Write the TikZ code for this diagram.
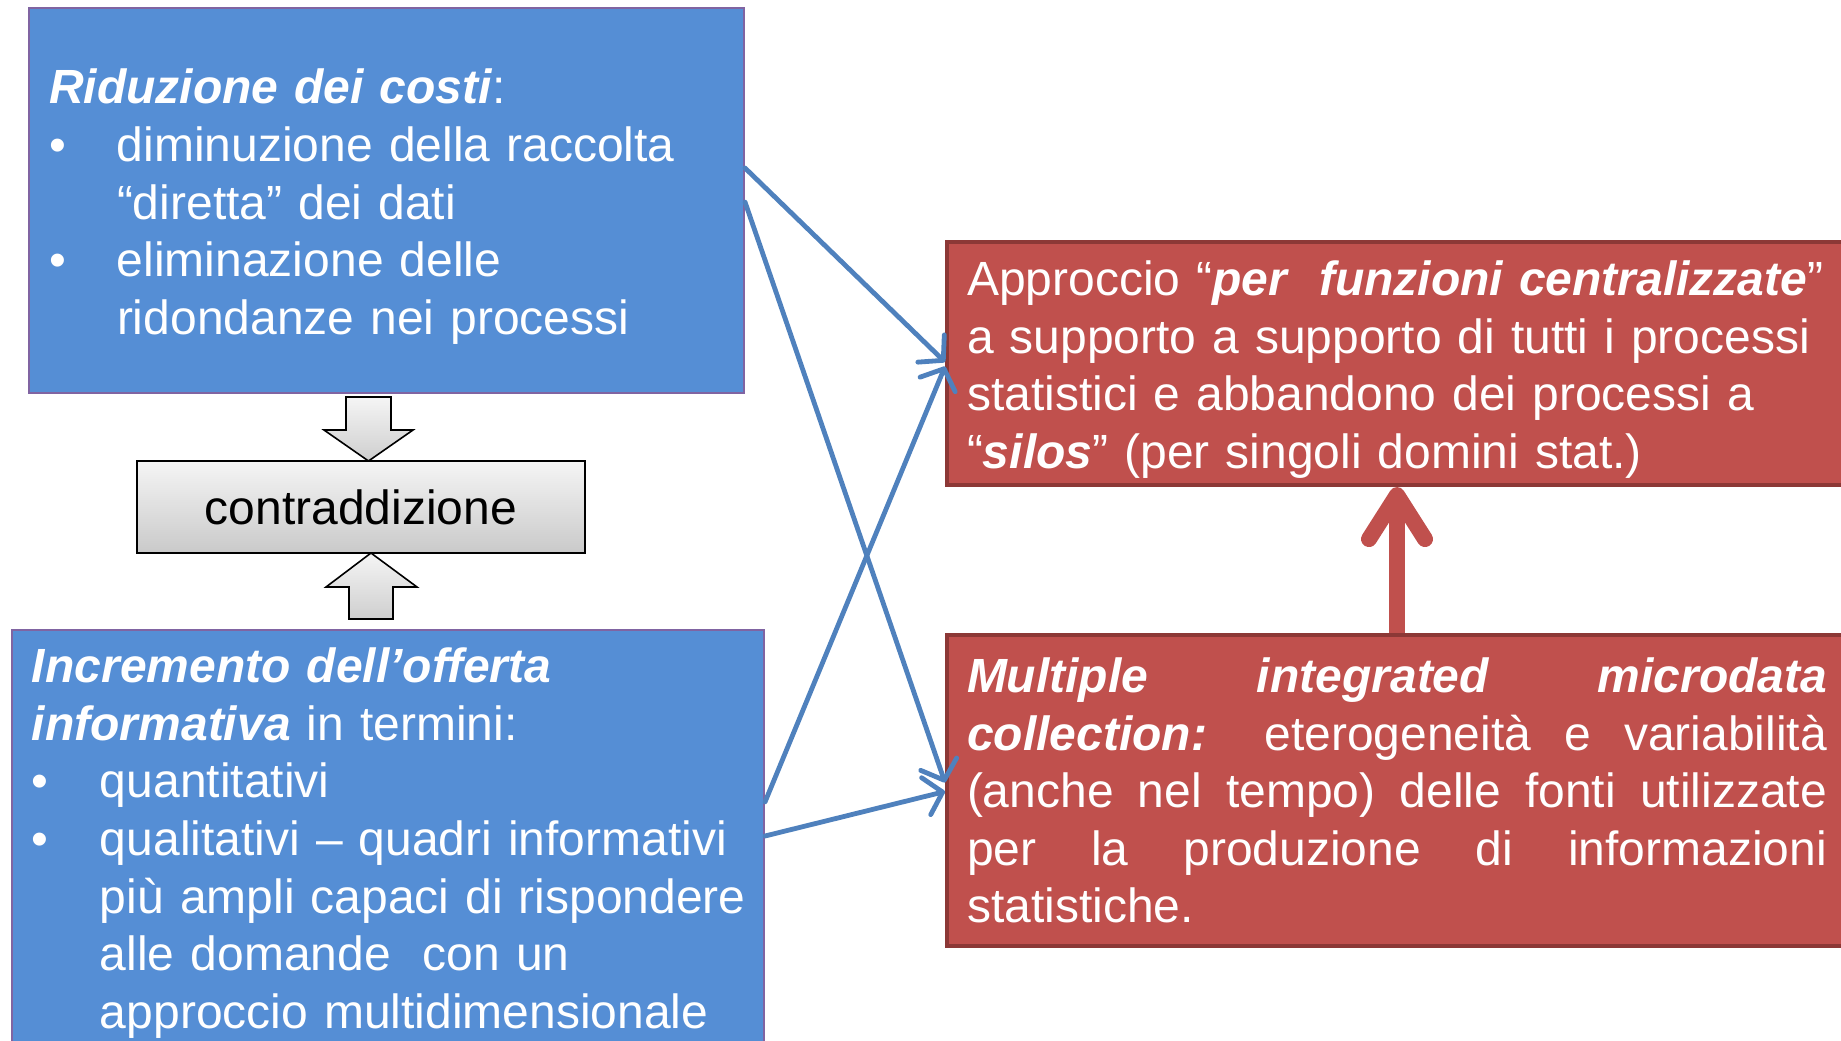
\documentclass[tikz,border=0pt]{standalone}
\usepackage{fontspec}
\setmainfont{Liberation Sans}
\usetikzlibrary{arrows.meta,positioning}
\definecolor{boxblue}{HTML}{558ED5}
\definecolor{boxblueline}{HTML}{8064A2}
\definecolor{linkblue}{HTML}{4F81BD}
\definecolor{boxred}{HTML}{C0504D}
\definecolor{boxredline}{HTML}{8C3836}
\newcommand{\bfit}[1]{\textbf{\textit{#1}}}
\newcommand{\blt}[1]{\makebox[34pt][l]{\textbullet}\mbox{#1}}
\newcommand{\bltind}[1]{\hspace*{34pt}\mbox{#1}}
\newcommand{\jline}[1]{\makebox[430pt][s]{\spaceskip=0pt\xspaceskip=0pt #1}}
\newcommand{\toprule}{\rule{0pt}{23.5pt}}
\tikzset{
  big/.style={font=\fontsize{24}{28.8}\selectfont},
  bluebox/.style={big,draw=boxblueline,line width=1pt,fill=boxblue,text=white,align=left,inner xsep=10pt},
  redbox/.style={big,draw=boxredline,line width=2pt,fill=boxred,text=white,inner xsep=10pt,
    text width=430pt,minimum width=450pt},
  greybox/.style={big,draw=black,line width=0.8pt,top color=gray!8,bottom color=gray!42},
  blockarrow/.style={draw=black,line width=0.8pt,top color=gray!8,bottom color=gray!38},
  bluelink/.style={linkblue,line width=2.4pt,line cap=round,-{Straight Barb[length=8.5pt,width=19pt,round]}},
  redlink/.style={boxred,line width=8pt,-{Straight Barb[length=22pt,width=28pt,round]}}
}
\begin{document}
\begin{tikzpicture}[x=0.5pt,y=-0.5pt]
\useasboundingbox (0,0) rectangle (1841,1040);
\clip (0,0) rectangle (1841,1040);

\node[bluebox,text width=337.5pt,minimum width=357.5pt,minimum height=192.5pt] (cost) at (386.5,200.5)
  {\toprule\bfit{Riduzione dei costi}:\\
   \blt{diminuzione della raccolta}\\
   \bltind{“diretta” dei dati}\\
   \blt{eliminazione delle}\\
   \bltind{ridondanze nei processi}};

\node[bluebox,anchor=north west,text width=356pt,inner ysep=9pt] (offer) at (11,629)
  {\bfit{Incremento dell’offerta}\\
   \bfit{informativa} in termini:\\
   \blt{quantitativi}\\
   \blt{qualitativi – quadri informativi}\\
   \bltind{più ampli capaci di rispondere}\\
   \bltind{alle domande\ \ con un}\\
   \bltind{approccio multidimensionale}};

\node[greybox,minimum width=224pt,minimum height=46pt] (contr) at (361,507) {contraddizione};
\draw[blockarrow] (346,397) -- (391,397) -- (391,430) -- (413,430) -- (368.5,461) -- (324,430) -- (346,430) -- cycle;
\draw[blockarrow] (349,619) -- (393,619) -- (393,587) -- (417,587) -- (371,553) -- (326,587) -- (349,587) -- cycle;

\node[redbox,align=left,minimum height=121.5pt] (centr) at (1397,363.5)
  {\toprule Approccio “\bfit{per\ \ funzioni centralizzate}”\\
   a supporto a supporto di tutti i processi\\
   statistici e abbandono dei processi a\\
   “\bfit{silos}” (per singoli domini stat.)};

\node[redbox,align=left,minimum height=155.5pt] (micro) at (1397,790.5)
  {\jline{\bfit{Multiple integrated microdata}}\\
   \jline{\bfit{collection:} eterogeneità e variabilità}\\
   \jline{(anche nel tempo) delle fonti utilizzate}\\
   \jline{per la produzione di informazioni}\\
   statistiche.};

\draw[redlink] (micro.north) -- (centr.south);

\draw[bluelink] ([yshift=16.25pt]cost.east) -- ([yshift=0.75pt]centr.west);
\draw[bluelink] ([yshift=-0.75pt]cost.east) -- ([yshift=4pt]micro.west);
\draw[bluelink] ([yshift=-86.5pt]offer.north east) -- ([yshift=-1.5pt]centr.west);
\draw[bluelink] ([yshift=-103.5pt]offer.north east) -- ([yshift=-0.5pt]micro.west);
\end{tikzpicture}
\end{document}
